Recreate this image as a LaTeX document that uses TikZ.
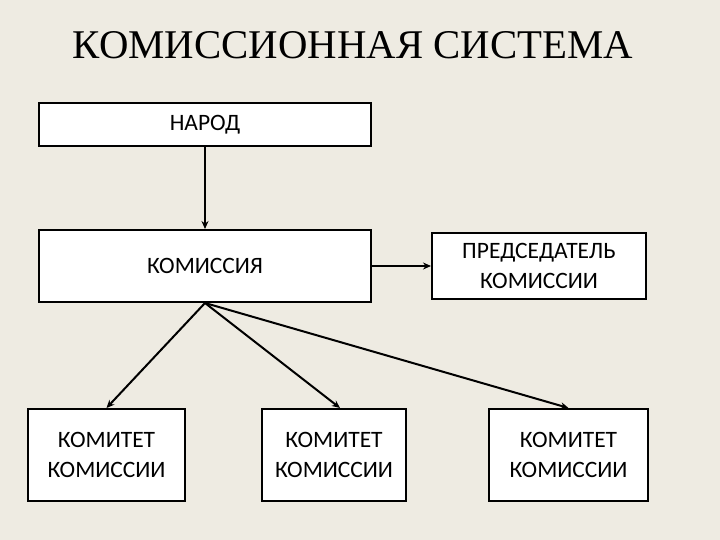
\documentclass[tikz,border=0pt]{standalone}
\usepackage{fontspec}
\setmainfont{Carlito}
\newfontfamily\titlefont{Liberation Serif}
\usetikzlibrary{arrows.meta}
\definecolor{bgc}{HTML}{EEEBE2}
\begin{document}
\begin{tikzpicture}[x=1pt,y=-1pt,
  box/.style={draw=black,line width=2pt,fill=white,inner sep=0pt,align=center,
    font=\fontsize{23.5}{30}\selectfont},
  arr/.style={line width=2pt,-{Stealth[length=8pt,width=7pt]}}]
\fill[bgc] (0,0) rectangle (720,540);
\useasboundingbox (0,0) rectangle (720,540);
\node[font=\titlefont\fontsize{40.8}{42}\selectfont] (title) at (353,45) {КОМИССИОННАЯ СИСТЕМА};
\node[box,minimum width=332pt,minimum height=43pt] (narod) at (205,124.5) {НАРОД};
\node[box,minimum width=332pt,minimum height=72pt] (kom) at (205,266) {КОМИССИЯ};
\node[box,minimum width=214pt,minimum height=66pt] (pred) at (539,266) {ПРЕДСЕДАТЕЛЬ\\КОМИССИИ};
\node[box,minimum width=157pt,minimum height=92pt] (k1) at (106.5,455) {КОМИТЕТ\\КОМИССИИ};
\node[box,minimum width=144pt,minimum height=92pt] (k2) at (334,455) {КОМИТЕТ\\КОМИССИИ};
\node[box,minimum width=159pt,minimum height=92pt] (k3) at (568.5,455) {КОМИТЕТ\\КОМИССИИ};
\draw[arr] (narod.south) -- (kom.north);
\draw[arr] (kom.east) -- (pred.west);
\draw[arr] (kom.south) -- (k1.north);
\draw[arr] (kom.south) -- ([xshift=6pt]k2.north);
\draw[arr] (kom.south) -- (k3.north);
\end{tikzpicture}
\end{document}
